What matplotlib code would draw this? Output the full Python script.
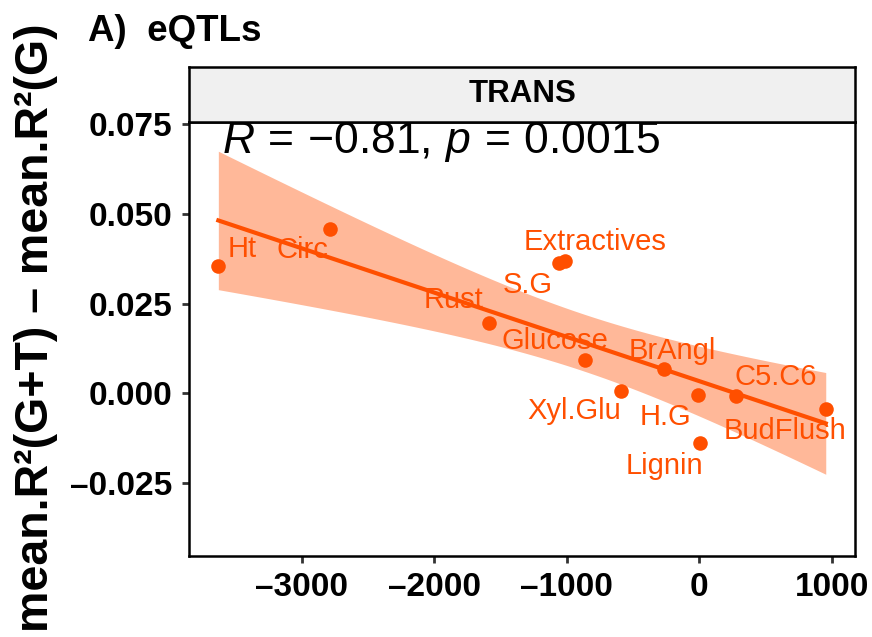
import matplotlib
matplotlib.use("Agg")
import matplotlib.pyplot as plt
import numpy as np

# mean distance (x) vs gain in R2 when adding transcript data (y), one point per trait
traits = ["Ht", "Circ", "Rust", "Glucose", "S.G", "Extractives",
          "Xyl.Glu", "BrAngl", "H.G", "Lignin", "C5.C6", "BudFlush"]
xvals = [-3630, -2790, -1585, -864, -1057, -1013, -592, -266, -11, 2, 275, 955]
yvals = [0.0356, 0.0458, 0.0197, 0.0093, 0.0362, 0.0369,
         0.0005, 0.0067, -0.0005, -0.0139, -0.0008, -0.0044]
# label nudges (pixels) from each point
nudges = {"Ht": (24, 17), "Circ": (-27, -21), "Rust": (-36, 23), "Glucose": (-30, 19),
          "S.G": (-32, -22), "Extractives": (30, 19), "Xyl.Glu": (-47, -20),
          "BrAngl": (8, 18), "H.G": (-32, -22), "Lignin": (-35, -23),
          "C5.C6": (40, 19), "BudFlush": (-41, -22)}
xticks = [-3000, -2000, -1000, 0, 1000]
yticks = [-0.025, 0.000, 0.025, 0.050, 0.075]

col = "#FF4F00"
plt.rcParams["font.family"] = ["Liberation Sans", "DejaVu Sans"]
plt.rcParams["mathtext.fontset"] = "custom"
plt.rcParams["mathtext.rm"] = "Liberation Sans"
plt.rcParams["mathtext.it"] = "Liberation Sans:italic"

fig = plt.figure(figsize=(8.72, 6.37), dpi=100)
ax = fig.add_axes([0.2165, 0.1272, 0.7645, 0.6818])

x = np.array(xvals, float)
y = np.array(yvals, float)
n = len(x)
b, a = np.polyfit(x, y, 1)
xs = np.linspace(x.min(), x.max(), 100)
fit = a + b * xs
resid = y - (a + b * x)
s = np.sqrt(np.sum(resid ** 2) / (n - 2))
se = s * np.sqrt(1 / n + (xs - x.mean()) ** 2 / np.sum((x - x.mean()) ** 2))
t = 2.228  # t(0.975, df=10)
ax.fill_between(xs, fit - t * se, fit + t * se, color=col, alpha=0.4, lw=0, zorder=1)
ax.plot(xs, fit, color=col, lw=3, zorder=2)
ax.scatter(x, y, s=110, color=col, zorder=3, lw=0)

for name, xv, yv in zip(traits, xvals, yvals):
    dx, dy = nudges[name]
    ax.annotate(name, (xv, yv), xytext=(dx, dy), textcoords="offset pixels",
                ha="center", va="center", fontsize=21, color=col, zorder=4)

ax.text(0.05, 0.928, r"$R\,=\,{-}0.81,\,p\,=\,0.0015$", transform=ax.transAxes,
        fontsize=32, va="baseline", ha="left", zorder=5)

ax.set_xlim(-3853, 1179)
ax.set_ylim(-0.04535, 0.0757)
ax.set_xticks(xticks)
ax.set_yticks(yticks)
ax.set_xticklabels([f"{v}".replace("-", "\u2013") for v in xticks])
ax.set_yticklabels([f"{v:.3f}".replace("-", "\u2013") for v in yticks])
ax.tick_params(labelsize=24, width=2, length=5, color="#333333")
ax.tick_params(axis="x", pad=6.5)
ax.tick_params(axis="y", pad=7)
for lab in ax.get_xticklabels() + ax.get_yticklabels():
    lab.set_fontweight("bold")
for sp in ax.spines.values():
    sp.set_linewidth(1.8)

# facet strip
strip = fig.add_axes([0.2165, 0.809, 0.7645, 0.0855])
strip.set_facecolor("#F0F0F0")
strip.set_xticks([])
strip.set_yticks([])
for sp in strip.spines.values():
    sp.set_linewidth(1.8)
strip.text(0.5, 0.5, "TRANS", ha="center", va="center", fontsize=22.5,
           fontweight="bold", transform=strip.transAxes)

fig.text(88 / 872, 1 - 41 / 637, "A)  eQTLs", fontsize=26.5, fontweight="bold",
         ha="left", va="baseline")
fig.text(36 / 872, 1 - 328 / 637, "mean.R\u00b2(G+T) \u2013 mean.R\u00b2(G)",
         rotation=90, fontsize=33.5, fontweight="bold", ha="center", va="center")

fig.savefig("out.png", dpi=100)
